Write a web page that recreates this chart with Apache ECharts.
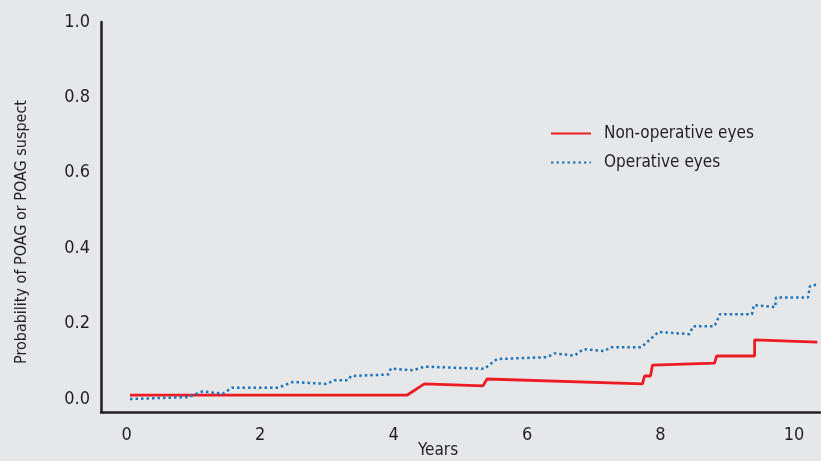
<!DOCTYPE html>
<html>
<head>
<meta charset="utf-8">
<script src="https://cdn.jsdelivr.net/npm/echarts@6/dist/echarts.min.js"></script>
<style>
  html, body { margin: 0; padding: 0; background: #e6e7e9; }
  #chart { width: 821px; height: 461px; }
</style>
</head>
<body>
<div id="chart"></div>
<script>
// 非手术眼 (Non-operative eyes)
const nonOpYears = [0.05, 4.20, 4.46, 5.34, 5.40, 7.73, 7.76, 7.85, 7.88, 8.81, 8.84, 9.41, 9.41, 10.35]
const nonOpProb = [0.01, 0.01, 0.04, 0.035, 0.053, 0.04, 0.061, 0.061, 0.09, 0.095, 0.114, 0.114, 0.157, 0.151]

// 手术眼 (Operative eyes)
const opYears = [0.05, 0.92, 1.14, 1.44, 1.58, 2.27, 2.49, 3.00, 3.11, 3.32, 3.36, 3.92, 3.96, 4.29, 4.46,
  5.36, 5.55, 6.30, 6.41, 6.71, 6.84, 7.16, 7.25, 7.71, 7.97, 8.43, 8.49, 8.81, 8.89, 9.37, 9.40,
  9.72, 9.73, 10.21, 10.24, 10.36]
const opProb = [0.0, 0.005, 0.02, 0.014, 0.03, 0.03, 0.045, 0.04, 0.05, 0.05, 0.061, 0.065, 0.081, 0.076, 0.086,
  0.08, 0.106, 0.111, 0.121, 0.115, 0.132, 0.127, 0.137, 0.137, 0.178, 0.172, 0.193, 0.193, 0.225, 0.225, 0.249,
  0.244, 0.269, 0.269, 0.30, 0.304]

const xTicks = [0, 2, 4, 6, 8, 10]
const yTicks = [0, 0.2, 0.4, 0.6, 0.8, 1.0]

const font = '"Liberation Sans Narrow", "DejaVu Sans Condensed", "Roboto", sans-serif'
const ink = '#231f20'

const zip = (xs, ys) => xs.map((x, i) => [x, ys[i]])

const chart = echarts.init(document.getElementById('chart'))

const option = {
  backgroundColor: '#e6e7e9',
  animation: false,
  grid: { left: 101, right: 1, top: 22, bottom: 49 },
  legend: {
    left: 545,
    top: 120,
    orient: 'vertical',
    itemWidth: 40,
    itemHeight: 14,
    itemGap: 12,
    itemStyle: { opacity: 0 },
    textStyle: { fontFamily: font, fontSize: 17, color: ink, padding: [0, 0, 0, 8] },
    data: ['Non-operative eyes', 'Operative eyes'],
  },
  xAxis: {
    type: 'value',
    min: -0.385,
    max: 10.39,
    splitLine: { show: false },
    axisTick: { show: false },
    axisLine: { onZero: false, lineStyle: { color: ink, width: 2.5 } },
    axisLabel: {
      customValues: xTicks,
      margin: 14,
      fontFamily: font,
      fontSize: 18,
      color: ink,
    },
  },
  yAxis: {
    type: 'value',
    min: -0.0345,
    max: 1.0,
    splitLine: { show: false },
    axisTick: { show: false },
    axisLine: { onZero: false, lineStyle: { color: ink, width: 2.5 } },
    axisLabel: {
      customValues: yTicks,
      formatter: (v) => v.toFixed(1),
      margin: 11,
      fontFamily: font,
      fontSize: 18,
      color: ink,
    },
  },
  graphic: [
    {
      type: 'text',
      left: 418,
      top: 442,
      style: { text: 'Years', font: '17px ' + font, fill: ink },
    },
    {
      type: 'text',
      x: 22,
      y: 232,
      rotation: Math.PI / 2,
      style: {
        text: 'Probability of POAG or POAG suspect',
        font: '16px ' + font,
        fill: ink,
        align: 'center',
        verticalAlign: 'middle',
      },
    },
  ],
  series: [
    {
      name: 'Non-operative eyes',
      type: 'line',
      symbol: 'none',
      color: '#ed1c24',
      lineStyle: { color: '#ed1c24', width: 2.8 },
      data: zip(nonOpYears, nonOpProb),
    },
    {
      name: 'Operative eyes',
      type: 'line',
      symbol: 'none',
      color: '#1c75bc',
      lineStyle: { color: '#1c75bc', width: 2.5, type: [2.5, 3] },
      data: zip(opYears, opProb),
    },
  ],
}

chart.setOption(option)
</script>
</body>
</html>
